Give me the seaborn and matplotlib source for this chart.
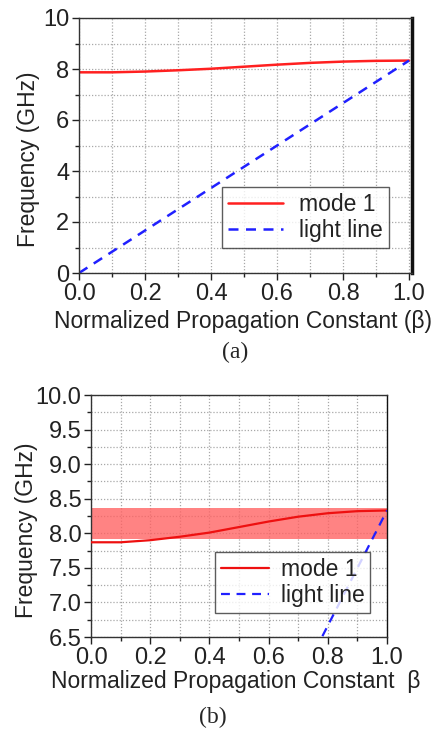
import numpy as np
import pandas as pd
import matplotlib
matplotlib.use("Agg")
import matplotlib.pyplot as plt
from matplotlib.ticker import MultipleLocator
import seaborn as sns

# ---- data ----
beta = [0.0, 0.1, 0.2, 0.3, 0.4, 0.5, 0.6, 0.7, 0.8, 0.9, 1.0]
mode1 = [7.87, 7.87, 7.90, 7.95, 8.01, 8.09, 8.17, 8.24, 8.29, 8.32, 8.33]
light_beta = [0.0, 1.0]
light_line = [0.0, 8.33]
band_low, band_high = 7.92, 8.37
xticks = [0.0, 0.2, 0.4, 0.6, 0.8, 1.0]
yticks_a = [0, 2, 4, 6, 8, 10]
yticks_b = [6.5, 7.0, 7.5, 8.0, 8.5, 9.0, 9.5, 10.0]

sns.set_theme(style="white")
plt.rcParams['font.family'] = ['Liberation Sans', 'DejaVu Sans']

W, H = 445, 732
fig = plt.figure(figsize=(W / 100, H / 100), dpi=100)

df_mode = pd.DataFrame({"beta": beta, "freq": mode1})
df_light = pd.DataFrame({"beta": light_beta, "freq": light_line})

TXT = "#222222"


def style_axes(ax, ylim, yticks, yminor, xmax, thick_right):
    ax.set_xlim(0, xmax)
    ax.set_ylim(*ylim)
    ax.set_xticks(xticks)
    ax.set_xticklabels([f"{t:.1f}" for t in xticks])
    ax.set_yticks(yticks)
    ax.xaxis.set_minor_locator(MultipleLocator(0.1))
    ax.yaxis.set_minor_locator(MultipleLocator(yminor))
    ax.grid(True, which="both", linestyle=(0, (1, 1.5)), color="#a8a8a8", linewidth=0.9)
    ax.tick_params(which="major", direction="out", length=5, width=1, colors=TXT,
                   labelsize=17, pad=2, bottom=True, left=True)
    ax.tick_params(which="minor", direction="out", length=3, width=1, colors=TXT,
                   bottom=True, left=True)
    for s in ["left", "bottom", "top"]:
        ax.spines[s].set_color("#333333")
        ax.spines[s].set_linewidth(1.0)
    ax.spines["right"].set_color("#111111")
    ax.spines["right"].set_linewidth(2.5 if thick_right else 1.0)
    ax.set_axisbelow(True)


def style_legend(leg):
    leg.get_frame().set_edgecolor("#333333")
    leg.get_frame().set_linewidth(1.0)
    for t in leg.get_texts():
        t.set_color(TXT)


# ---- panel (a) ----
ax1 = fig.add_axes([79 / W, 1 - 273 / H, 333 / W, 255 / H])
sns.lineplot(data=df_mode, x="beta", y="freq", ax=ax1, color="#ff2020", linewidth=1.8,
             label="mode 1")
sns.lineplot(data=df_light, x="beta", y="freq", ax=ax1, color="#2020ff", linewidth=1.8,
             linestyle=(0, (4, 3)), label="light line")
style_axes(ax1, (0, 10), yticks_a, 1, 1.009, True)
ax1.set_xlabel("Normalized Propagation Constant (β)", fontsize=16.5, color=TXT)
ax1.set_ylabel("Frequency (GHz)", fontsize=16.5, color=TXT)
ax1.xaxis.set_label_coords(0.492, -0.145)
ax1.yaxis.set_label_coords(-0.117, 0.447)
leg = ax1.legend(loc="lower right", bbox_to_anchor=(0.93, 0.098), fontsize=16.5, frameon=True,
                 fancybox=False, handlelength=2.4, borderpad=0.25, labelspacing=0.15,
                 handletextpad=0.7, borderaxespad=0)
style_legend(leg)
fig.text(235 / W, 1 - 352 / H, "(a)", ha="center", va="center", fontsize=17,
         family="Liberation Serif")

# ---- panel (b) ----
ax2 = fig.add_axes([91 / W, 1 - 637 / H, 296 / W, 242 / H])
ax2.axhspan(band_low, band_high, color="#ff6060", alpha=0.78, linewidth=0, zorder=1)
sns.lineplot(data=df_mode, x="beta", y="freq", ax=ax2, color="#ee1010", linewidth=1.6,
             label="mode 1", zorder=3)
sns.lineplot(data=df_light, x="beta", y="freq", ax=ax2, color="#2020ff", linewidth=1.6,
             linestyle=(0, (4, 3)), label="light line", zorder=3)
style_axes(ax2, (6.5, 10.0), yticks_b, 0.25, 1.0, False)
ax2.set_xlabel("Normalized Propagation Constant  β", fontsize=16.5, color=TXT)
ax2.set_ylabel("Frequency (GHz)", fontsize=16.5, color=TXT)
ax2.xaxis.set_label_coords(0.49, -0.137)
ax2.yaxis.set_label_coords(-0.179, 0.442)
leg2 = ax2.legend(loc="lower right", bbox_to_anchor=(0.943, 0.1), fontsize=16.5, frameon=True,
                  fancybox=False, handlelength=2.1, borderpad=0.25, labelspacing=0.15,
                  handletextpad=0.5, borderaxespad=0)
style_legend(leg2)
fig.text(213 / W, 1 - 717 / H, "(b)", ha="center", va="center", fontsize=17,
         family="Liberation Serif")

fig.savefig("out.png", dpi=100, facecolor="white")
